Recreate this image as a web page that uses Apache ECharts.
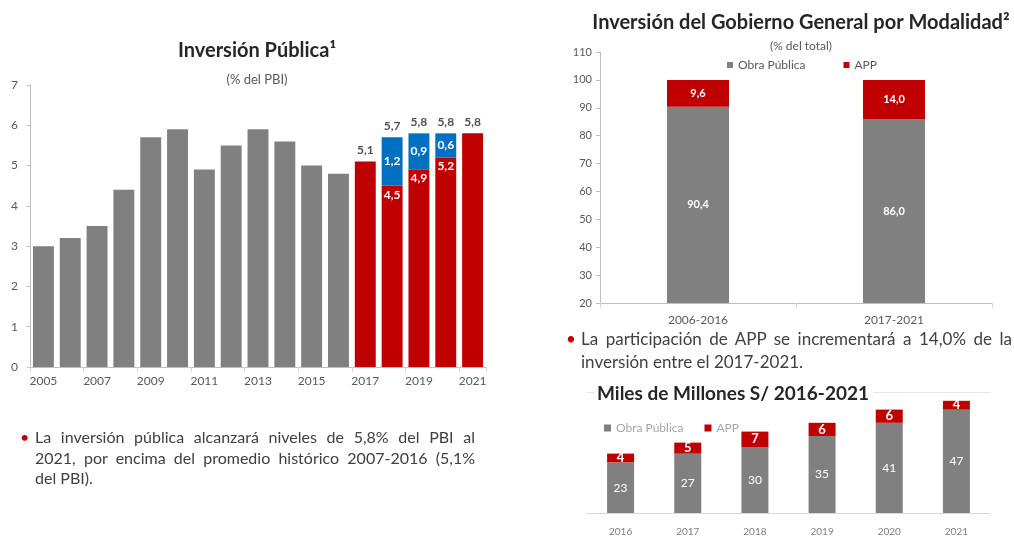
<!DOCTYPE html>
<html>
<head>
<meta charset="utf-8">
<script src="https://cdn.jsdelivr.net/npm/echarts@6/dist/echarts.min.js"></script>
<style>
  body { margin: 0; background: #fff; }
  #wrap { position: relative; width: 1014px; height: 539px; overflow: hidden; }
  #main { position: absolute; left: 0; top: 0; width: 1014px; height: 539px; }
  .nota { position: absolute; font-family: Lato, "Open Sans", sans-serif; color: #404040; }
  .nota div { text-align: justify; text-align-last: justify; }
  .nota div.fin { text-align-last: left; }
  .nota .dot { position: absolute; color: #c00000; }
</style>
</head>
<body>
<div id="wrap">
  <div id="main"></div>
  <div class="nota" style="left:35px; top:427px; width:440px; font-size:16px; line-height:20.5px;">
    <span class="dot" style="left:-15px;">•</span>
    <div>La inversión pública alcanzará niveles de 5,8% del PBI al</div>
    <div>2021, por encima del promedio histórico 2007-2016 (5,1%</div>
    <div class="fin">del PBI).</div>
  </div>
  <div class="nota" style="left:581px; top:327px; width:431px; font-size:17px; line-height:23px;">
    <span class="dot" style="left:-15px;">•</span>
    <div>La participación de APP se incrementará a 14,0% de la</div>
    <div class="fin">inversión entre el 2017-2021.</div>
  </div>
</div>
<script>
// --- Inversión Pública (% del PBI)
var years = ['2005', '2006', '2007', '2008', '2009', '2010', '2011', '2012', '2013', '2014', '2015', '2016', '2017', '2018', '2019', '2020', '2021'];
var historico = [3.0, 3.2, 3.5, 4.4, 5.7, 5.9, 4.9, 5.5, 5.9, 5.6, 5.0, 4.8, '-', '-', '-', '-', '-'];
var obraProy = ['-', '-', '-', '-', '-', '-', '-', '-', '-', '-', '-', '-', 5.1, 4.5, 4.9, 5.2, 5.8];
var appProy = ['-', '-', '-', '-', '-', '-', '-', '-', '-', '-', '-', '-', '-', 1.2, 0.9, 0.6, '-'];

// --- Inversión del Gobierno General por Modalidad (% del total)
var periodos = ['2006-2016', '2017-2021'];
var obraPeriodo = [90.4, 86.0];
var appPeriodo = [9.6, 14.0];

// --- Miles de Millones S/
var anios = ['2016', '2017', '2018', '2019', '2020', '2021'];
var obraAnual = [23, 27, 30, 35, 41, 47];
var appAnual = [4, 5, 7, 6, 6, 4];

var GRIS = '#808080', ROJO = '#c00000', AZUL = '#0070c0';
var FONT = 'Lato, "Open Sans", sans-serif';

function coma(v) { return Number(v).toFixed(1).replace('.', ','); }

// totales de la proyeccion (suma de obra + APP)
var totales = obraProy.map(function (v, i) {
    if (v === '-') return '-';
    return (appProy[i] === '-' ? v : Math.round((v + appProy[i]) * 10) / 10);
});

var chart = echarts.init(document.getElementById('main'));

var option = {
    animation: false,
    textStyle: { fontFamily: FONT },
    title: [
        { text: 'Inversión Pública¹', left: 252, top: 36, textAlign: 'center',
          textStyle: { fontSize: 20, fontWeight: 'bold', color: '#262626', fontFamily: FONT } },
        { text: '(% del PBI)', left: 252, top: 68, textAlign: 'center',
          textStyle: { fontSize: 13, fontWeight: 'normal', color: '#595959', fontFamily: FONT } },
        { text: 'Inversión del Gobierno General por Modalidad²', left: 796, top: 8, textAlign: 'center',
          textStyle: { fontSize: 20, fontWeight: 'bold', color: '#262626', fontFamily: FONT } },
        { text: '(% del total)', left: 796, top: 35, textAlign: 'center',
          textStyle: { fontSize: 12, fontWeight: 'normal', color: '#595959', fontFamily: FONT } },
        { text: 'Miles de Millones S/ 2016-2021', left: 594, top: 382, backgroundColor: '#fff', padding: [2, 4, 2, 3],
          textStyle: { fontSize: 19, fontWeight: 'bold', color: '#262626', fontFamily: FONT } }
    ],
    legend: [
        { data: ['Obra Pública', 'APP'], left: 722, top: 54, icon: 'rect', itemWidth: 6, itemHeight: 6,
          itemGap: 38, textStyle: { fontSize: 12, color: '#595959' } },
        { data: ['Obra Pública', 'APP'], left: 599, top: 417, icon: 'rect', itemWidth: 7, itemHeight: 7,
          itemGap: 21, textStyle: { fontSize: 12, color: '#a6a6a6' } }
    ],
    grid: [
        { left: 30, right: 528, top: 85, bottom: 172 },
        { left: 600, right: 22, top: 52, bottom: 236 },
        { left: 587, right: 24, top: 392, bottom: 26 }
    ],
    xAxis: [
        { type: 'category', gridIndex: 0, data: years,
          axisLine: { lineStyle: { color: '#bfbfbf' } },
          axisTick: { show: true, lineStyle: { color: '#d9d9d9' } },
          axisLabel: { interval: 1, fontSize: 12, color: '#595959', margin: 8 } },
        { type: 'category', gridIndex: 1, data: periodos,
          axisLine: { lineStyle: { color: '#bfbfbf' } },
          axisTick: { show: true, lineStyle: { color: '#d9d9d9' } },
          axisLabel: { fontSize: 12, color: '#595959', margin: 11 } },
        { type: 'category', gridIndex: 2, data: anios,
          axisLine: { lineStyle: { color: '#d9d9d9' } },
          axisTick: { show: false },
          axisLabel: { fontSize: 10, color: '#808080', margin: 14 } }
    ],
    yAxis: [
        { type: 'value', gridIndex: 0, min: 0, max: 7, interval: 1,
          axisLine: { show: true, lineStyle: { color: '#bfbfbf' } },
          axisTick: { show: true, length: 3, lineStyle: { color: '#bfbfbf' } },
          splitLine: { show: false },
          axisLabel: { fontSize: 12, color: '#595959', margin: 12 } },
        { type: 'value', gridIndex: 1, min: 20, max: 110, interval: 10,
          axisLine: { show: true, lineStyle: { color: '#bfbfbf' } },
          axisTick: { show: true, length: 4, lineStyle: { color: '#bfbfbf' } },
          splitLine: { show: false },
          axisLabel: { fontSize: 11, color: '#595959', margin: 8 } },
        { type: 'value', gridIndex: 2, min: 0, max: 55, interval: 55,
          axisLine: { show: false }, axisTick: { show: false },
          axisLabel: { show: false },
          splitLine: { show: true, lineStyle: { color: '#e6e6e6' } } }
    ],
    series: [
        // grafico 1
        { name: 'Histórico', type: 'bar', xAxisIndex: 0, yAxisIndex: 0, stack: 'a',
          barCategoryGap: '22%', data: historico, itemStyle: { color: GRIS } },
        { name: 'Obra (proy.)', type: 'bar', xAxisIndex: 0, yAxisIndex: 0, stack: 'a',
          data: obraProy.map(function (v, i) {
              var conApp = appProy[i] !== '-';
              return { value: v, label: { show: conApp } };
          }),
          itemStyle: { color: ROJO },
          label: { position: 'insideTop', distance: 3, color: '#fff', fontSize: 12, fontWeight: 'bold',
                   formatter: function (p) { return coma(p.value); } } },
        { name: 'APP (proy.)', type: 'bar', xAxisIndex: 0, yAxisIndex: 0, stack: 'a',
          data: appProy, itemStyle: { color: AZUL },
          label: { show: true, position: 'inside', color: '#fff', fontSize: 12, fontWeight: 'bold',
                   formatter: function (p) { return coma(p.value); } } },
        { name: 'Total', type: 'scatter', xAxisIndex: 0, yAxisIndex: 0,
          data: totales, symbolSize: 1, itemStyle: { color: 'rgba(0,0,0,0)' },
          label: { show: true, position: 'top', distance: 5, color: '#262626', fontSize: 12, fontWeight: 'bold',
                   formatter: function (p) { return coma(p.value); } } },
        // grafico 2
        { name: 'Obra Pública', type: 'bar', xAxisIndex: 1, yAxisIndex: 1, stack: 'b',
          barWidth: 62, data: obraPeriodo, itemStyle: { color: GRIS },
          label: { show: true, position: 'inside', color: '#fff', fontSize: 11, fontWeight: 'bold',
                   formatter: function (p) { return coma(p.value); } } },
        { name: 'APP', type: 'bar', xAxisIndex: 1, yAxisIndex: 1, stack: 'b',
          data: appPeriodo, itemStyle: { color: ROJO },
          label: { show: true, position: 'inside', color: '#fff', fontSize: 11, fontWeight: 'bold',
                   formatter: function (p) { return coma(p.value); } } },
        // grafico 3
        { name: 'Obra Pública', type: 'bar', xAxisIndex: 2, yAxisIndex: 2, stack: 'c',
          barWidth: 27, data: obraAnual, itemStyle: { color: GRIS },
          label: { show: true, position: 'inside', color: '#fff', fontSize: 12 } },
        { name: 'APP', type: 'bar', xAxisIndex: 2, yAxisIndex: 2, stack: 'c',
          data: appAnual, itemStyle: { color: ROJO },
          label: { show: true, position: 'inside', color: '#fff', fontSize: 13, fontWeight: 'bold' } }
    ]
};
chart.setOption(option);
</script>
</body>
</html>
